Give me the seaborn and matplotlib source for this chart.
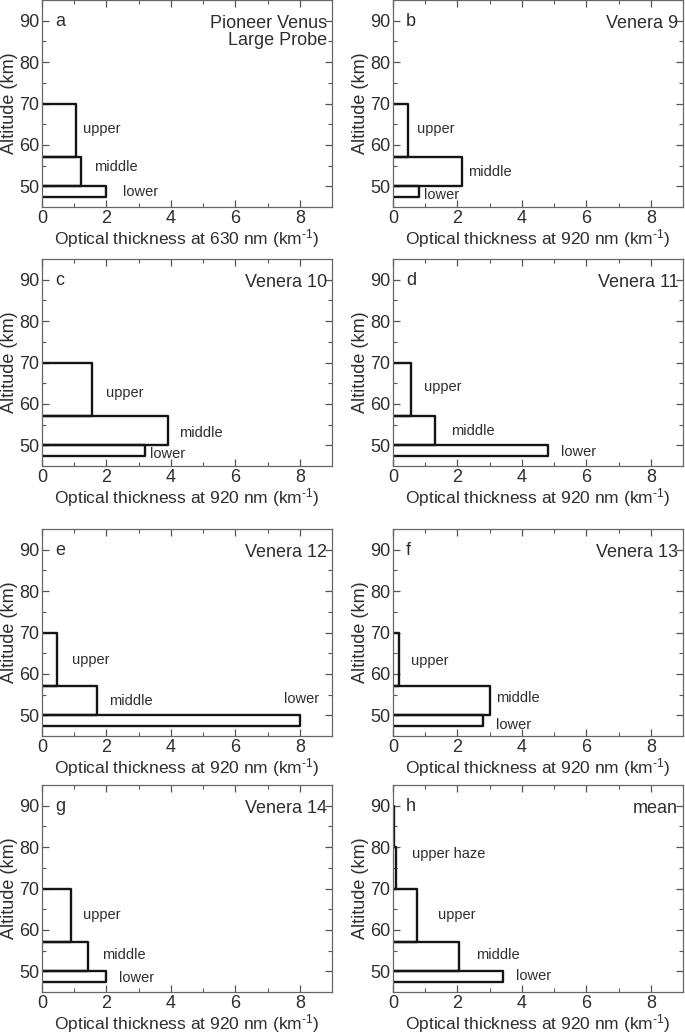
import numpy as np
import pandas as pd
import matplotlib
matplotlib.use("Agg")
import matplotlib.pyplot as plt
import seaborn as sns

# layer bounds (km)
layer_names = ["upper haze 2", "upper haze", "upper", "middle", "lower"]
layer_top = [90, 80, 70, 57, 50]
layer_bottom = [80, 70, 57, 50, 47.5]

panels = ["a", "b", "c", "d", "e", "f", "g", "h"]
probes = ["Pioneer Venus\nLarge Probe", "Venera 9", "Venera 10", "Venera 11",
          "Venera 12", "Venera 13", "Venera 14", "mean"]
wavelengths = ["630", "920", "920", "920", "920", "920", "920", "920"]

# optical thickness per km for (haze 80-90, haze 70-80, upper, middle, lower)
tau_a = [None, None, 1.05, 1.2, 2.0]
tau_b = [None, None, 0.45, 2.15, 0.8]
tau_c = [None, None, 1.55, 3.9, 3.2]
tau_d = [None, None, 0.55, 1.3, 4.8]
tau_e = [None, None, 0.45, 1.72, 8.0]
tau_f = [None, None, 0.2, 3.0, 2.8]
tau_g = [None, None, 0.9, 1.42, 2.0]
tau_h = [0.03, 0.1, 0.75, 2.05, 3.42]
tau_all = [tau_a, tau_b, tau_c, tau_d, tau_e, tau_f, tau_g, tau_h]

# label positions (x, y) in data units, per panel
label_pos = {
    "a": {"upper": (1.27, 63.8), "middle": (1.6, 54.6), "lower": (2.5, 48.6)},
    "b": {"upper": (0.74, 63.8), "middle": (2.33, 53.4), "lower": (0.96, 47.9)},
    "c": {"upper": (2.0, 62.6), "middle": (4.25, 53.0), "lower": (3.35, 47.9)},
    "d": {"upper": (0.96, 64.1), "middle": (1.8, 53.5), "lower": (5.2, 48.4)},
    "e": {"upper": (0.93, 63.4), "middle": (2.08, 53.5), "lower": (7.5, 54.0)},
    "f": {"upper": (0.56, 63.0), "middle": (3.2, 54.2), "lower": (3.2, 47.7)},
    "g": {"upper": (1.27, 63.6), "middle": (1.86, 54.0), "lower": (2.39, 48.4)},
    "h": {"upper haze": (0.59, 78.3), "upper": (1.4, 63.6),
          "middle": (2.58, 54.0), "lower": (3.82, 48.8)},
}

# build outline paths for every layer
rows = []
for p, taus in zip(panels, tau_all):
    for name, top, bot, v in zip(layer_names, layer_top, layer_bottom, taus):
        if v is None:
            continue
        for k, (xx, yy) in enumerate([(0, top), (v, top), (v, bot), (0, bot)]):
            rows.append({"panel": p, "layer": name, "step": k, "x": xx, "y": yy})
df = pd.DataFrame(rows)

sns.set_theme(style="ticks")
txt = "#2e2e2e"
plt.rcParams["font.family"] = ["Liberation Sans", "DejaVu Sans"]
plt.rcParams["mathtext.fontset"] = "custom"
plt.rcParams["mathtext.rm"] = "Liberation Sans"
plt.rcParams["mathtext.default"] = "regular"
plt.rcParams["text.color"] = txt
plt.rcParams["axes.labelcolor"] = txt

fig = plt.figure(figsize=(6.85, 10.36), dpi=100)

col_left = [42 / 685, 393 / 685]
row_bottom = [1 - 207 / 1036, 1 - 466 / 1036, 1 - 736 / 1036, 1 - 992 / 1036]
w, h = 290 / 685, 207 / 1036

for i, p in enumerate(panels):
    ax = fig.add_axes([col_left[i % 2], row_bottom[i // 2], w, h])
    sub = df[df["panel"] == p]
    sns.lineplot(data=sub, x="x", y="y", units="layer", estimator=None,
                 sort=False, color="#151515", linewidth=1.7, ax=ax)
    ax.set_xlim(0, 9)
    ax.set_ylim(45, 95)
    ax.set_xticks([0, 2, 4, 6, 8])
    ax.set_xticks([1, 3, 5, 7], minor=True)
    ax.set_yticks([50, 60, 70, 80, 90])
    ax.set_yticks([55, 65, 75, 85], minor=True)
    ax.tick_params(which="both", direction="in", top=True, right=True,
                   color="#555555", labelsize=13, labelcolor=txt, pad=2)
    ax.tick_params(which="major", length=5, width=0.9)
    ax.tick_params(which="minor", length=3, width=0.8)
    for s in ax.spines.values():
        s.set_color("#666666")
        s.set_linewidth(0.9)
    ax.set_xlabel(f"Optical thickness at {wavelengths[i]} nm (km$^{{\\text{{-}}1}}$)",
                  fontsize=12.5, labelpad=0)
    ax.set_ylabel("Altitude (km)", fontsize=13, labelpad=1)
    ax.text(0.4, 89.7, p, fontsize=13, va="center", ha="left")
    ax.text(8.85, 91.4, probes[i], fontsize=13, va="top", ha="right",
            linespacing=1.0)
    for name, (lx, ly) in label_pos[p].items():
        ax.text(lx, ly, name, fontsize=10.5, va="center", ha="left")

fig.savefig("out.png", dpi=100)
